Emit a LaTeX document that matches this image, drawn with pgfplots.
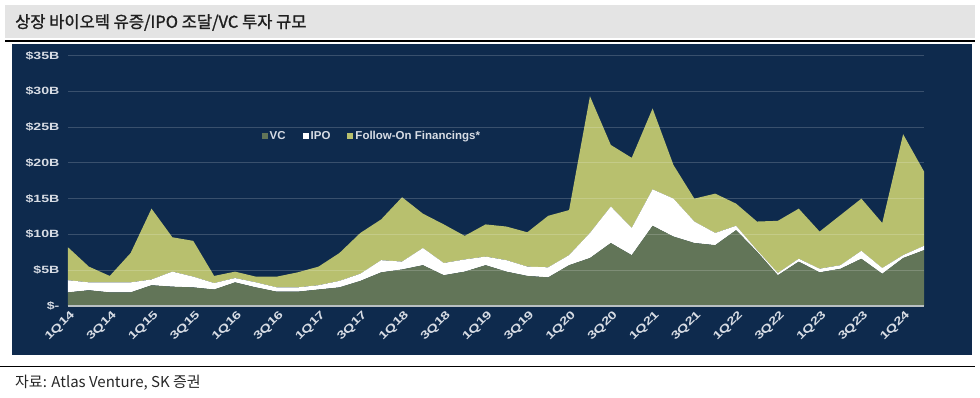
\documentclass[border=0pt]{standalone}
\usepackage{pgfplots}
\usepackage{pgfplotstable}
\pgfplotsset{compat=1.18}
\usepackage{fontspec}
\setmainfont{Liberation Sans}
\newfontfamily\krfont{Noto Sans CJK KR}
\newfontfamily\krboldfont[FakeBold=1.2]{Noto Sans CJK KR}
\newfontfamily\tickfont[FakeStretch=1.35]{Liberation Sans}
\definecolor{navy}{RGB}{14,42,77}
\definecolor{vcgreen}{RGB}{98,117,88}
\definecolor{fogreen}{RGB}{184,192,110}
\definecolor{ticktxt}{RGB}{215,220,228}
\definecolor{titlebg}{RGB}{228,228,228}
\definecolor{basegray}{RGB}{185,192,195}
\pgfplotstableread{
i vc ipo fo
0 1.9 1.7 4.6
1 2.2 1.1 2.2
2 1.9 1.4 0.9
3 1.9 1.4 4.1
4 2.9 0.8 9.9
5 2.7 2.1 4.8
6 2.6 1.5 5.0
7 2.3 0.9 1.0
8 3.3 0.6 0.9
9 2.6 0.7 0.8
10 2.0 0.6 1.5
11 2.0 0.6 2.1
12 2.3 0.6 2.6
13 2.6 0.9 3.9
14 3.5 1.0 5.7
15 4.7 1.7 5.7
16 5.1 1.1 9.0
17 5.7 2.4 4.8
18 4.3 1.7 5.4
19 4.8 1.7 3.3
20 5.7 1.2 4.5
21 4.8 1.6 4.7
22 4.2 1.3 4.8
23 4.0 1.4 7.2
24 5.7 1.4 6.3
25 6.7 3.5 19.1
26 8.8 5.1 8.6
27 7.1 3.8 9.8
28 11.2 5.1 11.3
29 9.7 5.3 4.7
30 8.8 3.0 3.2
31 8.5 1.7 5.5
32 10.6 0.6 3.1
33 7.6 0.2 4.0
34 4.3 0.3 7.3
35 6.2 0.4 7.0
36 4.7 0.5 5.2
37 5.2 0.5 7.0
38 6.6 1.1 7.3
39 4.5 0.8 6.3
40 6.7 0.4 16.9
41 7.8 0.6 10.4
}\datatable
\begin{document}
\begin{tikzpicture}[x=1pt,y=1pt]
\useasboundingbox (0,0) rectangle (980,398);
\fill[titlebg] (5,393) rectangle (975,360);
\draw[line width=2.5pt] (5,357) -- (975,357);
\fill[navy] (12,354) rectangle (972,43);
\draw[line width=0.9pt] (0,32) -- (975,32);
\node[anchor=west, inner sep=0pt, font=\krboldfont\fontsize{16.5}{16.5}\selectfont, text=black!88] at (15,375.5) {상장 바이오텍 유증/IPO 조달/VC 투자 규모};
\node[anchor=base west, inner sep=0pt, font=\krfont\fontsize{15}{15}\selectfont, text=black!85] at (15,10) {자료: Atlas Venture, SK 증권};
\begin{axis}[
  at={(68pt,92pt)}, anchor=south west,
  scale only axis, width=856pt, height=250.5pt,
  xmin=0, xmax=41, ymin=0, ymax=35,
  stack plots=y,
  axis on top,
  axis x line*=bottom, axis y line*=left,
  x axis line style={draw=basegray, line width=2pt},
  y axis line style={draw=none},
  major tick length=0pt,
  ytick={0,5,10,15,20,25,30,35},
  yticklabels={\$-,\$5B,\$10B,\$15B,\$20B,\$25B,\$30B,\$35B},
  xtick={0,2,...,40},
  xticklabels={1Q14,3Q14,1Q15,3Q15,1Q16,3Q16,1Q17,3Q17,1Q18,3Q18,1Q19,3Q19,1Q20,3Q20,1Q21,3Q21,1Q22,3Q22,1Q23,3Q23,1Q24},
  ymajorgrids,
  grid style={white, opacity=0.18, line width=0.9pt},
  y tick label style={font=\tickfont\bfseries\fontsize{10.5}{10.5}\selectfont, text=ticktxt, xshift=-5pt},
  x tick label style={font=\tickfont\bfseries\fontsize{11}{11}\selectfont, text=ticktxt, rotate=45, anchor=north east, inner sep=0.5pt, xshift=-1pt, yshift=-3pt},
  legend style={at={(0.355,0.679)}, anchor=center, draw=none, fill=none, text=ticktxt,
    font=\bfseries\fontsize{11.5}{11.5}\selectfont, legend columns=3,
    /tikz/every even column/.append style={column sep=15pt}},
  legend image code/.code={\fill[#1] (0pt,-3pt) rectangle (6pt,3pt);},
]
\addplot[fill=vcgreen, draw=none] table[x=i, y=vc] {\datatable} \closedcycle;
\addlegendentry{VC}
\addplot[fill=white, draw=none] table[x=i, y=ipo] {\datatable} \closedcycle;
\addlegendentry{IPO}
\addplot[fill=fogreen, draw=none] table[x=i, y=fo] {\datatable} \closedcycle;
\addlegendentry{Follow-On Financings*}
\end{axis}
\end{tikzpicture}
\end{document}
